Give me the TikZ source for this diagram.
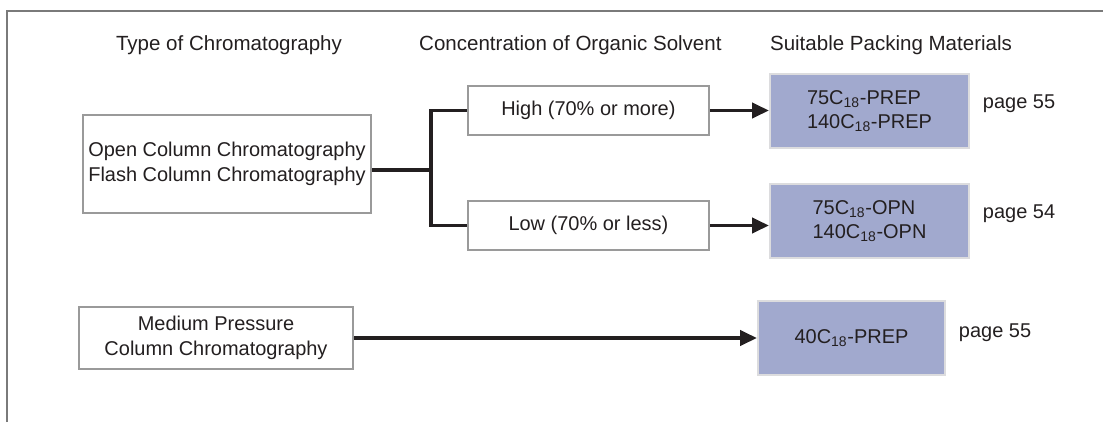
\documentclass[tikz,border=0pt]{standalone}
\usepackage{fontspec}
\setmainfont{Liberation Sans}
\usepackage{xcolor}
\usetikzlibrary{arrows.meta,positioning,calc}

\definecolor{inkgray}{HTML}{231F20}
\definecolor{boxgray}{HTML}{9A9A9A}
\definecolor{packblue}{HTML}{A1A9CE}
\definecolor{packedge}{HTML}{DCDCDE}
\definecolor{framegray}{HTML}{7A7A7A}

\begin{document}
\begin{tikzpicture}[
  font=\fontsize{14.2}{17.5}\selectfont, text=inkgray,
  heading/.style={font=\fontsize{14.6}{17.5}\selectfont},
  typebox/.style={draw=boxgray, line width=1.5pt, fill=white, inner sep=0pt, align=center},
  packbox/.style={draw=packedge, line width=1.6pt, fill=packblue, inner sep=0pt, align=left,
                  minimum height=1.85cm},
  link/.style={draw=inkgray, line width=2.4pt},
  feed/.style={link, -{Triangle[length=0.42cm, width=0.38cm]}}]
\useasboundingbox (0,0) rectangle (27.6,10.55);

% frame
\draw[framegray, line width=1.1pt] (0.175,0) -- (0.175,10.275) -- (27.575,10.275);

% column headings
\node[heading] (hdtype) at (5.725,9.425) {Type of Chromatography};
\node[heading] (hdconc) at (14.26,9.425) {Concentration of Organic Solvent};
\node[heading] (hdpack) at (22.275,9.425) {Suitable Packing Materials};

% type of chromatography
\node[typebox, minimum width=7.2cm, minimum height=2.45cm] (open) at (5.675,6.45)
  {Open Column Chromatography\\Flash Column Chromatography};
\node[typebox, minimum width=6.85cm, minimum height=1.55cm] (medium) at (5.4,2.1)
  {Medium Pressure\\Column Chromatography};

% organic solvent
\node[typebox, minimum width=6.025cm, minimum height=1.225cm] (high) at (14.71,7.7875)
  {High (70\% or more)};
\node[typebox, minimum width=6.025cm, minimum height=1.225cm] (low) at (14.71,4.9125)
  {Low (70\% or less)};
\coordinate (split) at (10.775,6.3);

% packing materials
\node[packbox, minimum width=4.975cm] (prep) at (21.7375,7.775)
  {75C\textsubscript{18}-PREP\\140C\textsubscript{18}-PREP};
\node[packbox, minimum width=4.975cm] (opn) at (21.7375,5.025)
  {75C\textsubscript{18}-OPN\\140C\textsubscript{18}-OPN};
\node[packbox, minimum width=4.675cm] (mprep) at (21.2875,2.1)
  {40C\textsubscript{18}-PREP};

\node[anchor=west] (pgprep) at (24.45,7.95) {page 55};
\node[anchor=west] (pgopn) at (24.45,5.2) {page 54};
\node[anchor=west] (pgmprep) at (23.85,2.225) {page 55};

% connectors
\draw[link] (open.east |- split) -- (split);
\draw[link] (high.west) -| (split) |- (low.west);
\draw[feed] (high.east) -- (high.east -| prep.west);
\draw[feed] (low.east) -- (low.east -| opn.west);
\draw[feed] (medium.east) -- (medium.east -| mprep.west);
\end{tikzpicture}
\end{document}
